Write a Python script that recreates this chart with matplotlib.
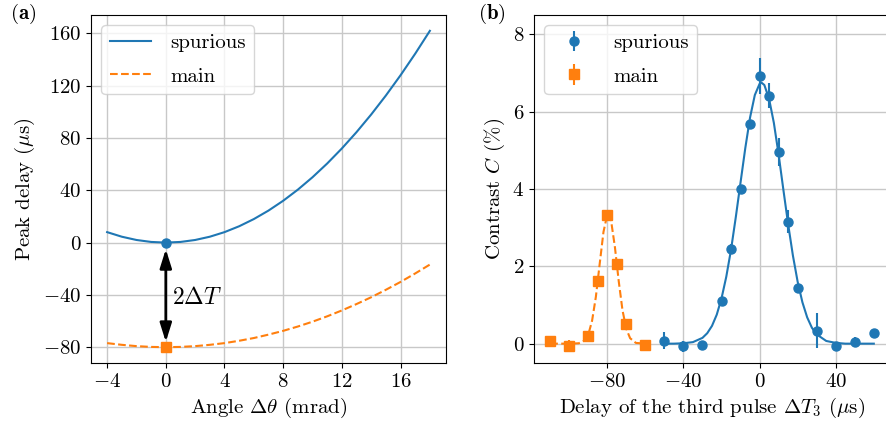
import numpy as np
import matplotlib
matplotlib.use("Agg")
import matplotlib.pyplot as plt

plt.rcParams['font.family'] = 'serif'
plt.rcParams['font.serif'] = ['cmr10']
plt.rcParams['mathtext.fontset'] = 'cm'
plt.rcParams['axes.formatter.use_mathtext'] = True
plt.rcParams['font.size'] = 15

# (a) peak delay vs angle
angle = [-4, -3, -2, -1, 0, 1, 2, 3, 4, 5, 6, 7, 8, 9, 10, 11, 12, 13, 14, 15, 16, 17, 18]
spurious_delay = [8, 4.5, 2, 0.5, 0, 0.5, 2, 4.5, 8, 12.5, 18, 24.5, 32, 40.5, 50, 60.5,
                  72, 84.5, 98, 112.5, 128, 144.5, 162]
main_delay = [-76.9, -78.2, -79.2, -79.8, -80, -79.8, -79.2, -78.2, -76.9, -75.1, -73.0,
              -70.4, -67.5, -64.2, -60.5, -56.4, -51.9, -47.0, -41.8, -36.1, -30.1, -23.6, -16.8]
spurious_min = (0, 0)
main_min = (0, -80)

# (b) contrast vs delay of third pulse
sp_x = [-50, -40, -30, -20, -15, -10, -5, 0, 5, 10, 15, 20, 30, 40, 50, 60]
sp_y = [0.08, -0.07, -0.04, 1.1, 2.45, 4.0, 5.69, 6.92, 6.41, 4.95, 3.15, 1.43, 0.34, -0.07, 0.04, 0.28]
sp_err = [0.23, 0.15, 0.05, 0.1, 0.12, 0.08, 0.08, 0.47, 0.32, 0.36, 0.3, 0.12, 0.45, 0.08, 0.12, 0.1]
main_x = [-110, -100, -90, -85, -80, -75, -70, -60]
main_y = [0.07, -0.05, 0.2, 1.62, 3.33, 2.05, 0.52, -0.03]
main_err = [0.05, 0.15, 0.12, 0.1, 0.08, 0.08, 0.08, 0.05]

sp_fit_x = [-50, -45, -40, -35, -30, -27.5, -25, -22.5, -20, -17.5, -15, -12.5, -10, -7.5, -5,
            -2.5, 0, 1, 2.5, 5, 7.5, 10, 12.5, 15, 17.5, 20, 22.5, 25, 27.5, 30, 35, 40, 45, 50, 55, 60]
sp_fit_y = [0, 0, 0.01, 0.04, 0.15, 0.27, 0.46, 0.75, 1.17, 1.73, 2.43, 3.27, 4.17, 5.06, 5.85,
            6.43, 6.72, 6.75, 6.69, 6.33, 5.71, 4.89, 3.98, 3.09, 2.28, 1.60, 1.07, 0.68, 0.41,
            0.24, 0.07, 0.02, 0, 0, 0, 0]
main_fit_x = [-110, -100, -95, -92, -90, -88, -86, -84, -82, -80, -79, -78, -76, -74, -72,
              -70, -68, -65, -60]
main_fit_y = [0, 0, 0.01, 0.08, 0.23, 0.59, 1.21, 2.06, 2.89, 3.34, 3.36, 3.18, 2.50, 1.62,
              0.86, 0.38, 0.14, 0.02, 0]

fig = plt.figure(figsize=(8.86, 4.25), dpi=100)
ax1 = fig.add_axes([0.1027, 0.1459, 0.4007, 0.8188])
ax2 = fig.add_axes([0.6027, 0.1459, 0.4018, 0.8188])

grid_kw = dict(color='#c8c8c8', linewidth=1.0)
leg_kw = dict(loc='upper left', fontsize=15, handletextpad=0.9, labelspacing=0.7)

ax1.plot(angle, spurious_delay, '-', color='C0', lw=1.5, label='spurious')
ax1.plot(angle, main_delay, '--', color='C1', lw=1.5, label='main')
ax1.plot(*spurious_min, 'o', color='C0', ms=6.5)
ax1.plot(*main_min, 's', color='C1', ms=7)
ax1.annotate('', xy=(0, -76), xytext=(0, -5),
             arrowprops=dict(arrowstyle='<|-|>,head_length=0.8,head_width=0.25',
                             color='black', lw=2, mutation_scale=14, shrinkA=0, shrinkB=0))
ax1.text(0.45, -42, r'$2\Delta T$', fontsize=17, va='center', ha='left')
ax1.set_xticks([-4, 0, 4, 8, 12, 16])
ax1.set_yticks([-80, -40, 0, 40, 80, 120, 160])
ax1.set_xlabel(r'Angle $\Delta\theta$ (mrad)')
ax1.set_ylabel(r'Peak delay ($\mu$s)')
ax1.grid(True, **grid_kw)
ax1.set_axisbelow(True)
ax1.legend(**leg_kw)

ax2.plot(sp_fit_x, sp_fit_y, '-', color='C0', lw=1.5)
ax2.plot(main_fit_x, main_fit_y, '--', color='C1', lw=1.5)
ax2.errorbar(sp_x, sp_y, yerr=sp_err, fmt='o', color='C0', ms=6.5, elinewidth=1.5,
             capsize=0, label='spurious')
ax2.errorbar(main_x, main_y, yerr=main_err, fmt='s', color='C1', ms=7, elinewidth=1.5,
             capsize=0, label='main')
ax2.set_ylim(-0.5, 8.5)
ax2.set_xlim(-118.5, 68.5)
ax2.set_xticks([-80, -40, 0, 40])
ax2.set_yticks([0, 2, 4, 6, 8])
ax2.set_xlabel(r'Delay of the third pulse $\Delta T_3$ ($\mu$s)')
ax2.set_ylabel(r'Contrast $C$ (%)')
ax2.grid(True, **grid_kw)
ax2.set_axisbelow(True)
ax2.legend(**leg_kw)

fig.text(0.011, 0.995, r'$\mathbf{(a)}$', fontsize=15, va='top', ha='left')
fig.text(0.539, 0.995, r'$\mathbf{(b)}$', fontsize=15, va='top', ha='left')

fig.savefig('out.png', dpi=100)
